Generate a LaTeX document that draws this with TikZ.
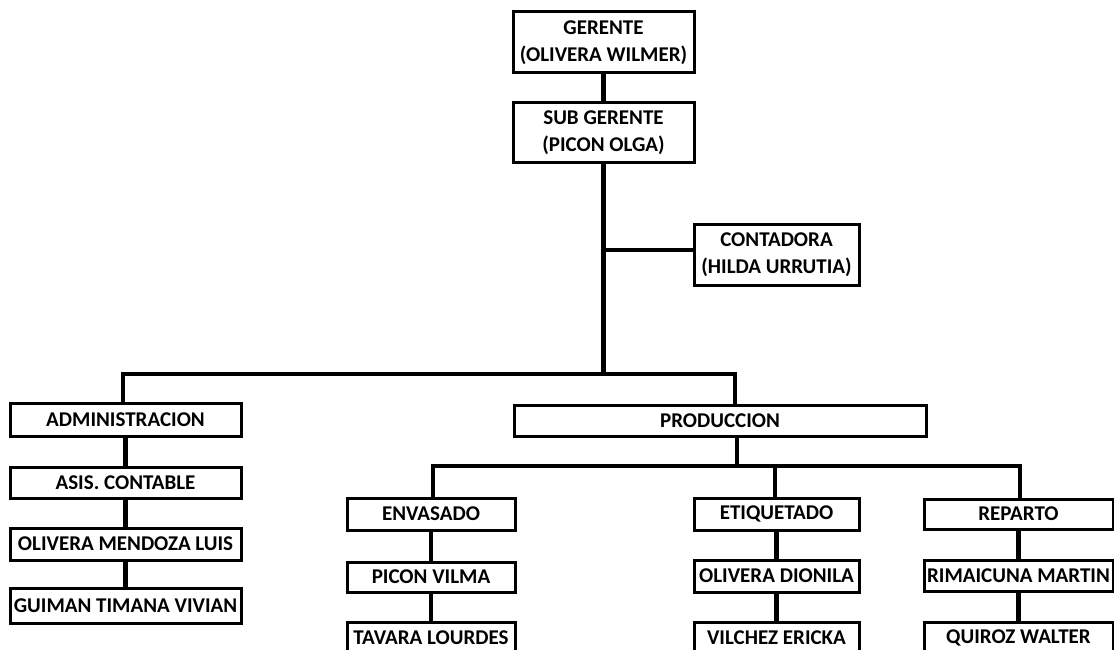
\documentclass[tikz,border=0pt]{standalone}
\usepackage{fontspec}
\setmainfont{Carlito}
\begin{document}
\begin{tikzpicture}[x=1pt,y=-1pt,
  box/.style={draw=black,line width=3pt,fill=white,inner sep=0pt,
    font=\fontsize{21}{27}\selectfont\bfseries,align=center},
  conn/.style={draw=black,line width=4.2pt}]
\useasboundingbox (0,0) rectangle (1114,650);
% top
\node[box,minimum width=181,minimum height=61] (ger) at (603.5,42.5) {GERENTE\\(OLIVERA WILMER)};
\node[box,minimum width=181,minimum height=60] (sub) at (603.5,133) {SUB GERENTE\\(PICON OLGA)};
\node[box,minimum width=165,minimum height=61] (cont) at (776.5,254.5) {CONTADORA\\(HILDA URRUTIA)};
% administracion column
\node[box,minimum width=231,minimum height=33] (adm) at (125.5,419.5) {ADMINISTRACION};
\node[box,minimum width=231,minimum height=31] (asis) at (125.5,482.5) {ASIS. CONTABLE};
\node[box,minimum width=231,minimum height=32] (olm) at (125.5,544) {OLIVERA MENDOZA LUIS};
\node[box,minimum width=231,minimum height=35] (gui) at (125.5,605.5) {GUIMAN TIMANA VIVIAN};
% produccion
\node[box,minimum width=412,minimum height=31] (prod) at (720,420.5) {PRODUCCION};
\node[box,minimum width=168,minimum height=32] (env) at (431,514) {ENVASADO};
\node[box,minimum width=168,minimum height=30] (pic) at (431,577) {PICON VILMA};
\node[box,minimum width=168,minimum height=32] (tav) at (431,638) {TAVARA LOURDES};
\node[box,minimum width=165,minimum height=32] (eti) at (776.5,514) {ETIQUETADO};
\node[box,minimum width=165,minimum height=32] (oli) at (776.5,576) {OLIVERA DIONILA};
\node[box,minimum width=165,minimum height=32] (vil) at (776.5,638) {VILCHEZ ERICKA};
\node[box,minimum width=189,minimum height=30] (rep) at (1018.5,514) {REPARTO};
\node[box,minimum width=189,minimum height=31] (rim) at (1018.5,575.5) {RIMAICUNA MARTIN};
\node[box,minimum width=189,minimum height=32] (qui) at (1018.5,638) {QUIROZ WALTER};
% bus coordinates
\coordinate (a1) at (123,374);
\coordinate (p1) at (735,374);
\coordinate (c1) at (602,250);
\coordinate (b2L) at (433,466);
\coordinate (b2R) at (1020,466);
\coordinate (pd) at (737,466);
\coordinate (et) at (775,466);
% connectors
\draw[conn] (ger.south) -- (sub.north);
\draw[conn] (sub.south) -- (sub.south |- a1);
\draw[conn] (c1) -- (c1 -| cont.west);
\draw[conn] (adm.north -| a1) -- (a1) -- (p1) -- (prod.north -| p1);
\draw[conn] (prod.south -| pd) -- (pd);
\draw[conn] (env.north -| b2L) -- (b2L) -- (b2R) -- (rep.north -| b2R);
\draw[conn] (et) -- (eti.north -| et);
\draw[conn] (adm.south) -- (asis.north);
\draw[conn] (asis.south) -- (olm.north);
\draw[conn] (olm.south) -- (gui.north);
\draw[conn] (env.south) -- (pic.north);
\draw[conn] (pic.south) -- (tav.north);
\draw[conn] (eti.south) -- (oli.north);
\draw[conn] (oli.south) -- (vil.north);
\draw[conn] (rep.south) -- (rim.north);
\draw[conn] (rim.south) -- (qui.north);
\end{tikzpicture}
\end{document}
